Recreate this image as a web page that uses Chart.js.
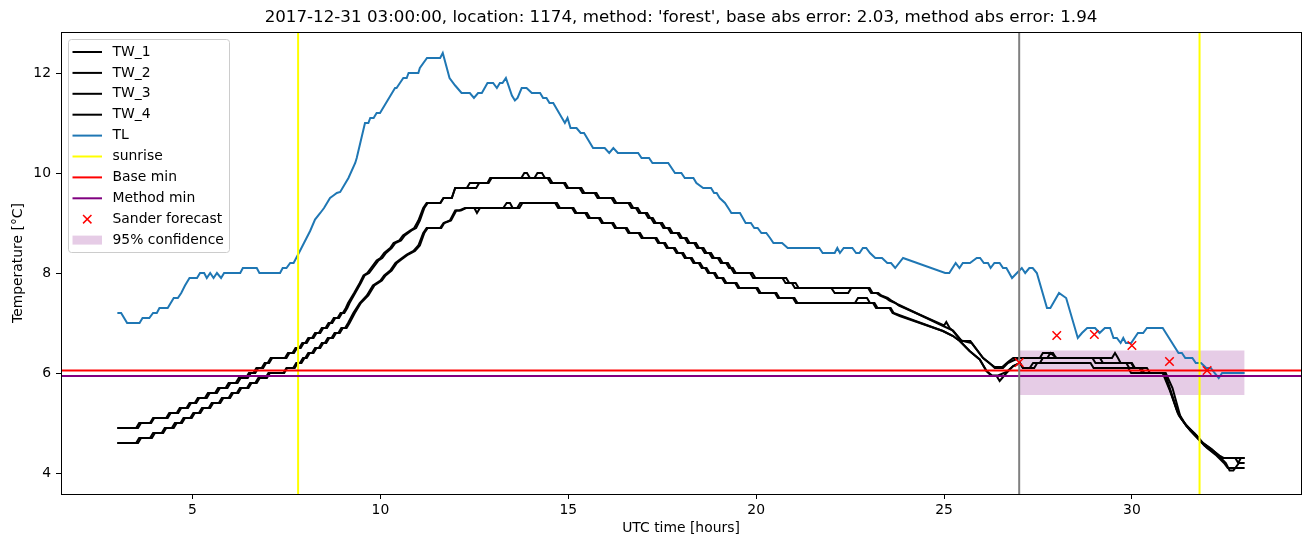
<!DOCTYPE html>
<html><head><meta charset="utf-8">
<script src="https://cdn.jsdelivr.net/npm/chart.js@4.4.1/dist/chart.umd.min.js"></script>
<style>html,body{margin:0;padding:0;background:#fff}#wrap{width:1310px;height:547px;position:relative}</style>
</head><body><div id="wrap"><canvas id="c" width="1310" height="547"></canvas></div>
<script>
const titleText = "2017-12-31 03:00:00, location: 1174, method: 'forest', base abs error: 2.03, method abs error: 1.94";
const xLabel = "UTC time [hours]";
const yLabel = "Temperature [°C]";
const xTicks = [5, 10, 15, 20, 25, 30];
const yTicks = [4, 6, 8, 10, 12];
const xRange = [1.5, 34.5];
const yRange = [3.58, 12.82];

const TW_1 = [[3.0,4.9],[3.5,4.9],[3.58,5.0],[3.87,5.0],[3.95,5.1],[4.3,5.1],[4.38,5.2],[4.58,5.2],[4.66,5.3],[4.84,5.3],[4.92,5.4],[5.06,5.4],[5.14,5.5],[5.33,5.5],[5.41,5.6],[5.6,5.6],[5.68,5.7],[5.88,5.7],[5.96,5.8],[6.15,5.8],[6.23,5.9],[6.42,5.9],[6.5,6.0],[6.62,6.0],[6.7,6.1],[6.84,6.1],[6.92,6.2],[7.0,6.2],[7.08,6.3],[7.46,6.3],[7.54,6.4],[7.66,6.4],[7.74,6.5],[7.84,6.5],[7.92,6.6],[8.0,6.6],[8.08,6.7],[8.18,6.7],[8.26,6.8],[8.36,6.8],[8.44,6.9],[8.54,6.9],[8.62,7.0],[8.68,7.0],[8.76,7.1],[8.86,7.1],[8.94,7.2],[9.0,7.2],[9.08,7.3],[9.14,7.4],[9.3,7.6],[9.45,7.8],[9.55,7.95],[9.65,8.0],[9.75,8.1],[9.9,8.25],[10.0,8.3],[10.1,8.4],[10.26,8.5],[10.35,8.6],[10.5,8.65],[10.6,8.75],[10.79,8.85],[10.9,8.9],[11.01,9.05],[11.14,9.3],[11.23,9.4],[11.59,9.4],[11.68,9.5],[11.9,9.5],[11.99,9.7],[12.3,9.7],[12.38,9.8],[12.85,9.8],[12.92,9.9],[13.75,9.9],[13.83,10.0],[13.9,10.0],[13.98,9.9],[14.1,9.9],[14.18,10.0],[14.3,10.0],[14.38,9.9],[14.5,9.9],[14.58,9.8],[14.88,9.8],[14.96,9.7],[15.3,9.7],[15.38,9.6],[15.7,9.6],[15.78,9.5],[16.15,9.5],[16.23,9.4],[16.6,9.4],[16.68,9.3],[16.8,9.3],[16.88,9.2],[17.05,9.2],[17.13,9.1],[17.2,9.1],[17.28,9.0],[17.45,9.0],[17.53,8.9],[17.65,8.9],[17.73,8.8],[17.9,8.8],[17.98,8.7],[18.1,8.7],[18.18,8.6],[18.35,8.6],[18.43,8.5],[18.55,8.5],[18.63,8.4],[18.75,8.4],[18.83,8.3],[18.98,8.3],[19.06,8.2],[19.2,8.2],[19.28,8.1],[19.33,8.1],[19.41,8.0],[19.84,8.0],[19.92,7.9],[20.7,7.9],[20.78,7.8],[20.95,7.8],[21.03,7.7],[22.98,7.7],[23.06,7.6],[23.2,7.6],[23.3,7.55],[23.45,7.5],[23.55,7.45],[23.7,7.4],[23.8,7.35],[25.0,6.95],[25.06,7.02],[25.15,6.9],[25.24,6.84],[25.46,6.64],[25.7,6.64],[26.04,6.3],[26.2,6.2],[26.35,6.12],[26.55,6.12],[26.7,6.22],[26.84,6.3],[27.55,6.3],[27.63,6.4],[27.9,6.4],[27.98,6.3],[28.95,6.3],[29.03,6.2],[29.85,6.2],[29.93,6.1],[30.25,6.1],[30.33,6.0],[30.82,6.0],[31.0,5.67],[31.22,5.2],[31.45,4.94],[31.67,4.79],[31.89,4.6],[32.16,4.45],[32.33,4.35],[32.45,4.3],[33.0,4.3]];

const TW_2 = [[3.0,4.9],[3.55,4.9],[3.63,5.0],[3.9,5.0],[3.98,5.1],[4.34,5.1],[4.42,5.2],[4.62,5.2],[4.7,5.3],[4.88,5.3],[4.96,5.4],[5.1,5.4],[5.18,5.5],[5.38,5.5],[5.46,5.6],[5.65,5.6],[5.73,5.7],[5.93,5.7],[6.01,5.8],[6.2,5.8],[6.28,5.9],[6.47,5.9],[6.55,6.0],[6.67,6.0],[6.75,6.1],[6.88,6.1],[6.96,6.2],[7.04,6.2],[7.12,6.3],[7.5,6.3],[7.58,6.4],[7.7,6.4],[7.78,6.5],[7.88,6.5],[7.96,6.6],[8.04,6.6],[8.12,6.7],[8.22,6.7],[8.3,6.8],[8.4,6.8],[8.48,6.9],[8.58,6.9],[8.66,7.0],[8.72,7.0],[8.8,7.1],[8.9,7.1],[8.98,7.2],[9.04,7.2],[9.12,7.3],[9.18,7.4],[9.33,7.6],[9.48,7.8],[9.58,7.95],[9.7,8.0],[9.8,8.1],[9.95,8.25],[10.05,8.3],[10.15,8.4],[10.3,8.5],[10.4,8.6],[10.55,8.65],[10.65,8.75],[10.83,8.85],[10.95,8.9],[11.05,9.05],[11.17,9.3],[11.26,9.4],[11.6,9.4],[11.68,9.5],[11.9,9.5],[11.99,9.7],[12.55,9.7],[12.63,9.8],[12.88,9.8],[12.96,9.9],[14.45,9.9],[14.53,9.8],[14.92,9.8],[15.0,9.7],[15.35,9.7],[15.43,9.6],[15.75,9.6],[15.83,9.5],[16.2,9.5],[16.28,9.4],[16.65,9.4],[16.73,9.3],[16.85,9.3],[16.93,9.2],[17.1,9.2],[17.18,9.1],[17.25,9.1],[17.33,9.0],[17.5,9.0],[17.58,8.9],[17.7,8.9],[17.78,8.8],[17.95,8.8],[18.03,8.7],[18.15,8.7],[18.23,8.6],[18.4,8.6],[18.48,8.5],[18.6,8.5],[18.68,8.4],[18.8,8.4],[18.88,8.3],[19.03,8.3],[19.11,8.2],[19.25,8.2],[19.33,8.1],[19.38,8.1],[19.46,8.0],[19.9,8.0],[19.98,7.9],[20.8,7.9],[20.88,7.8],[21.05,7.8],[21.13,7.7],[22.0,7.7],[22.09,7.6],[22.45,7.6],[22.53,7.7],[23.02,7.7],[23.1,7.6],[23.25,7.6],[23.33,7.55],[23.5,7.5],[23.6,7.45],[23.78,7.37],[24.95,6.95],[25.24,6.85],[25.46,6.65],[25.73,6.6],[26.04,6.3],[26.21,6.2],[26.35,6.1],[26.57,6.1],[26.7,6.2],[26.84,6.25],[27.0,6.3],[27.75,6.3],[27.83,6.4],[28.0,6.3],[29.15,6.3],[29.23,6.2],[29.98,6.2],[30.06,6.1],[30.4,6.1],[30.48,6.0],[30.88,6.0],[31.05,5.6],[31.25,5.15],[31.5,4.9],[31.72,4.75],[31.93,4.55],[32.2,4.4],[32.38,4.3],[32.75,4.3],[32.83,4.2],[32.9,4.3],[33.0,4.3]];

const TW_3 = [[3.0,4.6],[3.5,4.6],[3.58,4.7],[3.87,4.7],[3.95,4.8],[4.18,4.8],[4.26,4.9],[4.45,4.9],[4.53,5.0],[4.68,5.0],[4.76,5.1],[4.94,5.1],[5.02,5.2],[5.17,5.2],[5.25,5.3],[5.43,5.3],[5.51,5.4],[5.7,5.4],[5.78,5.5],[5.96,5.5],[6.04,5.6],[6.18,5.6],[6.26,5.7],[6.45,5.7],[6.53,5.8],[6.67,5.8],[6.75,5.9],[6.94,5.9],[7.02,6.0],[7.42,6.0],[7.5,6.1],[7.68,6.1],[7.76,6.2],[7.86,6.2],[7.94,6.3],[8.0,6.3],[8.08,6.4],[8.18,6.4],[8.26,6.5],[8.36,6.5],[8.44,6.6],[8.52,6.6],[8.6,6.7],[8.7,6.7],[8.78,6.8],[8.88,6.8],[8.96,6.9],[9.06,6.9],[9.14,7.0],[9.28,7.2],[9.45,7.4],[9.64,7.55],[9.8,7.75],[10.0,7.85],[10.1,7.95],[10.26,8.05],[10.4,8.2],[10.52,8.27],[10.7,8.37],[10.88,8.44],[11.01,8.55],[11.14,8.8],[11.23,8.9],[11.59,8.9],[11.68,9.0],[11.85,9.05],[11.99,9.25],[12.1,9.25],[12.25,9.3],[12.5,9.3],[12.57,9.2],[12.65,9.3],[13.27,9.3],[13.36,9.4],[13.45,9.4],[13.52,9.3],[13.64,9.3],[13.72,9.4],[14.65,9.4],[14.73,9.3],[15.1,9.3],[15.18,9.2],[15.45,9.2],[15.53,9.1],[15.81,9.1],[15.89,9.0],[16.16,9.0],[16.24,8.9],[16.52,8.9],[16.6,8.8],[16.87,8.8],[16.95,8.7],[17.31,8.7],[17.39,8.6],[17.54,8.6],[17.62,8.5],[17.8,8.5],[17.88,8.4],[18.02,8.4],[18.1,8.3],[18.25,8.3],[18.33,8.2],[18.47,8.2],[18.55,8.1],[18.64,8.1],[18.72,8.0],[18.87,8.0],[18.95,7.9],[19.09,7.9],[19.17,7.8],[19.44,7.8],[19.52,7.7],[20.0,7.7],[20.08,7.6],[20.5,7.6],[20.58,7.5],[20.98,7.5],[21.06,7.4],[22.63,7.4],[22.71,7.5],[22.95,7.5],[23.03,7.4],[23.11,7.4],[23.19,7.3],[23.55,7.3],[23.63,7.2],[23.82,7.14],[24.97,6.84],[25.24,6.74],[25.42,6.64],[25.68,6.44],[25.95,6.27],[26.13,6.04],[26.26,5.94],[26.4,5.94],[26.48,5.84],[26.66,6.0],[26.84,6.14],[27.02,6.2],[27.1,6.1],[27.28,6.1],[27.37,6.2],[27.55,6.2],[27.63,6.3],[29.47,6.3],[29.55,6.4],[29.63,6.3],[29.7,6.2],[30.0,6.2],[30.08,6.1],[30.2,6.1],[30.28,6.0],[30.85,6.0],[31.02,5.65],[31.2,5.25],[31.42,4.98],[31.65,4.8],[31.86,4.62],[32.12,4.48],[32.3,4.35],[32.5,4.2],[32.6,4.05],[32.7,4.05],[32.85,4.2],[33.0,4.2]];

const TW_4 = [[3.0,4.6],[3.55,4.6],[3.63,4.7],[3.92,4.7],[4.0,4.8],[4.22,4.8],[4.3,4.9],[4.5,4.9],[4.58,5.0],[4.72,5.0],[4.8,5.1],[4.98,5.1],[5.06,5.2],[5.21,5.2],[5.29,5.3],[5.47,5.3],[5.55,5.4],[5.74,5.4],[5.82,5.5],[6.0,5.5],[6.08,5.6],[6.22,5.6],[6.3,5.7],[6.49,5.7],[6.57,5.8],[6.71,5.8],[6.79,5.9],[6.98,5.9],[7.06,6.0],[7.44,6.0],[7.52,6.1],[7.72,6.1],[7.8,6.2],[7.9,6.2],[7.98,6.3],[8.04,6.3],[8.12,6.4],[8.22,6.4],[8.3,6.5],[8.4,6.5],[8.48,6.6],[8.56,6.6],[8.64,6.7],[8.74,6.7],[8.82,6.8],[8.92,6.8],[9.0,6.9],[9.1,6.9],[9.18,7.0],[9.32,7.2],[9.48,7.4],[9.68,7.55],[9.84,7.75],[10.04,7.85],[10.14,7.95],[10.3,8.05],[10.44,8.2],[10.56,8.27],[10.74,8.37],[10.92,8.44],[11.05,8.55],[11.17,8.8],[11.26,8.9],[11.62,8.9],[11.7,9.0],[11.88,9.05],[12.02,9.25],[12.14,9.25],[12.28,9.3],[13.7,9.3],[13.78,9.4],[14.7,9.4],[14.78,9.3],[15.14,9.3],[15.22,9.2],[15.5,9.2],[15.58,9.1],[15.85,9.1],[15.93,9.0],[16.2,9.0],[16.28,8.9],[16.56,8.9],[16.64,8.8],[16.91,8.8],[16.99,8.7],[17.35,8.7],[17.43,8.6],[17.58,8.6],[17.66,8.5],[17.84,8.5],[17.92,8.4],[18.06,8.4],[18.14,8.3],[18.29,8.3],[18.37,8.2],[18.51,8.2],[18.59,8.1],[18.68,8.1],[18.76,8.0],[18.91,8.0],[18.99,7.9],[19.13,7.9],[19.21,7.8],[19.48,7.8],[19.56,7.7],[20.04,7.7],[20.12,7.6],[20.54,7.6],[20.62,7.5],[21.02,7.5],[21.1,7.4],[23.15,7.4],[23.23,7.3],[23.58,7.3],[23.66,7.2],[23.84,7.15],[24.97,6.84],[25.24,6.74],[25.42,6.64],[25.68,6.44],[25.95,6.27],[26.13,6.04],[26.28,5.95],[26.44,5.95],[26.66,6.02],[26.84,6.14],[27.02,6.2],[27.1,6.1],[27.4,6.1],[27.48,6.2],[28.9,6.2],[28.98,6.1],[29.9,6.1],[29.98,6.0],[30.9,6.0],[31.08,5.7],[31.3,5.1],[31.55,4.85],[31.8,4.65],[32.0,4.5],[32.25,4.35],[32.45,4.2],[32.55,4.1],[33.0,4.1]];

const TL = [[3.0,7.2],[3.1,7.2],[3.26,7.0],[3.59,7.0],[3.67,7.1],[3.85,7.1],[3.95,7.2],[4.05,7.2],[4.12,7.3],[4.34,7.3],[4.42,7.4],[4.5,7.5],[4.61,7.5],[4.7,7.6],[4.8,7.75],[4.92,7.9],[5.12,7.9],[5.2,8.0],[5.31,8.0],[5.38,7.9],[5.47,8.0],[5.56,7.9],[5.65,8.0],[5.76,7.9],[5.84,8.0],[6.27,8.0],[6.34,8.1],[6.71,8.1],[6.78,8.0],[7.33,8.0],[7.4,8.1],[7.5,8.1],[7.6,8.2],[7.69,8.2],[7.83,8.4],[8.13,8.84],[8.26,9.07],[8.4,9.2],[8.5,9.3],[8.66,9.5],[8.75,9.55],[8.84,9.6],[8.93,9.62],[9.15,9.9],[9.33,10.2],[9.37,10.3],[9.59,11.0],[9.68,11.0],[9.73,11.1],[9.82,11.1],[9.9,11.2],[9.99,11.2],[10.39,11.7],[10.43,11.7],[10.52,11.8],[10.61,11.9],[10.7,11.9],[10.75,12.0],[11.01,12.0],[11.05,12.1],[11.24,12.3],[11.59,12.3],[11.66,12.4],[11.84,11.9],[11.99,11.75],[12.16,11.6],[12.38,11.6],[12.49,11.5],[12.6,11.6],[12.7,11.6],[12.85,11.8],[13.0,11.8],[13.1,11.7],[13.18,11.8],[13.25,11.8],[13.34,11.9],[13.5,11.55],[13.58,11.45],[13.65,11.5],[13.76,11.7],[13.89,11.7],[14.03,11.6],[14.25,11.6],[14.33,11.5],[14.42,11.5],[14.5,11.4],[14.6,11.4],[14.91,11.0],[14.98,11.1],[15.06,10.9],[15.22,10.9],[15.33,10.8],[15.42,10.8],[15.66,10.5],[15.97,10.5],[16.09,10.4],[16.2,10.5],[16.32,10.4],[16.86,10.4],[16.95,10.3],[17.15,10.3],[17.24,10.2],[17.66,10.2],[17.84,10.0],[18.01,10.0],[18.1,9.9],[18.33,9.9],[18.41,9.8],[18.59,9.7],[18.8,9.7],[18.88,9.6],[18.95,9.6],[19.03,9.5],[19.17,9.4],[19.3,9.25],[19.34,9.2],[19.57,9.2],[19.72,9.0],[19.86,9.0],[19.95,8.9],[20.04,8.9],[20.14,8.8],[20.27,8.8],[20.37,8.7],[20.46,8.6],[20.69,8.6],[20.84,8.5],[21.68,8.5],[21.77,8.4],[22.09,8.4],[22.16,8.5],[22.23,8.4],[22.33,8.5],[22.56,8.5],[22.66,8.4],[22.75,8.4],[22.84,8.5],[22.93,8.5],[23.03,8.4],[23.17,8.3],[23.35,8.3],[23.49,8.2],[23.59,8.2],[23.7,8.1],[23.91,8.3],[25.03,8.0],[25.14,8.0],[25.31,8.2],[25.41,8.1],[25.5,8.2],[25.69,8.2],[25.87,8.3],[25.96,8.3],[26.06,8.2],[26.17,8.2],[26.24,8.1],[26.34,8.2],[26.48,8.2],[26.57,8.1],[26.66,8.1],[26.81,7.9],[26.94,8.0],[27.07,8.1],[27.16,8.0],[27.27,8.1],[27.36,8.1],[27.47,8.0],[27.74,7.3],[27.83,7.3],[28.06,7.6],[28.25,7.5],[28.56,6.7],[28.67,6.8],[28.81,6.9],[29.02,6.9],[29.14,6.8],[29.28,6.9],[29.42,6.9],[29.51,6.7],[29.6,6.7],[29.7,6.6],[29.77,6.7],[29.84,6.6],[29.98,6.6],[30.16,6.8],[30.3,6.8],[30.4,6.9],[30.82,6.9],[31.24,6.4],[31.33,6.4],[31.42,6.3],[31.61,6.3],[31.7,6.2],[31.84,6.2],[31.98,6.1],[32.1,6.1],[32.2,6.0],[32.31,5.9],[32.4,6.0],[32.92,6.0],[33.0,6.0]];

const sunriseHours = [7.81, 31.8];
const forecastStartHour = 27.0;
const baseMin = 6.05;
const methodMin = 5.94;
const forecastHours = [27, 28, 29, 30, 31, 32];
const forecastValues = [6.21, 6.75, 6.77, 6.55, 6.23, 6.05];
const confidenceHours = [27, 33];
const confidenceLow = [5.56, 5.56];
const confidenceHigh = [6.45, 6.45];

const FONT = "DejaVu Sans";
const toXY = a => a.map(p => ({x: p[0], y: p[1]}));
const zip = (xs, ys) => xs.map((x, i) => ({x, y: ys[i]}));
let ord = 100, leg = 0;
function line(label, data, color, legend) {
  return {type: 'line', label, data, borderColor: color, backgroundColor: color, borderWidth: 2,
    pointRadius: 0, pointHoverRadius: 0, fill: false, tension: 0, order: ord--,
    legendKind: legend ? 'line' : null, legendIndex: legend ? leg++ : -1};
}
const datasets = [];
// confidence band (drawn lowest)
datasets.push({type: 'line', label: '_low', data: zip(confidenceHours, confidenceLow), borderWidth: 0, pointRadius: 0, fill: false, order: 200, legendKind: null});
datasets.push({type: 'line', label: '95% confidence', data: zip(confidenceHours, confidenceHigh), borderWidth: 0, pointRadius: 0,
  fill: '-1', backgroundColor: 'rgba(128,0,128,0.2)', order: 199, legendKind: 'patch', legendIndex: 1000});
datasets.push(line('TW_1', toXY(TW_1), '#000000', true));
datasets.push(line('TW_2', toXY(TW_2), '#000000', true));
datasets.push(line('TW_3', toXY(TW_3), '#000000', true));
datasets.push(line('TW_4', toXY(TW_4), '#000000', true));
datasets.push(line('TL', toXY(TL), '#1f77b4', true));
sunriseHours.forEach((h, i) => datasets.push(line('sunrise', [{x: h, y: yRange[0]}, {x: h, y: yRange[1]}], '#ffff00', i === 0)));
datasets.push(line('Base min', [{x: xRange[0], y: baseMin}, {x: xRange[1], y: baseMin}], '#ff0000', true));
datasets.push(line('Method min', [{x: xRange[0], y: methodMin}, {x: xRange[1], y: methodMin}], '#800080', true));
datasets.push(line('_forecast_start', [{x: forecastStartHour, y: yRange[0]}, {x: forecastStartHour, y: yRange[1]}], '#808080', false));
datasets.push({type: 'scatter', label: 'Sander forecast', data: zip(forecastHours, forecastValues), showLine: false,
  pointStyle: 'crossRot', pointRadius: 6, pointHoverRadius: 6, borderColor: '#ff0000', backgroundColor: '#ff0000', borderWidth: 1.5,
  order: ord--, legendKind: 'marker', legendIndex: 900});

const tickFont = {family: FONT, size: 13.9};
const decor = {
  id: 'decor',
  afterDraw(chart) {
    const ctx = chart.ctx, a = chart.chartArea;
    ctx.save();
    ctx.strokeStyle = '#000'; ctx.lineWidth = 1;
    ctx.strokeRect(Math.round(a.left) + 0.5, Math.round(a.top) + 0.5, Math.round(a.right - a.left), Math.round(a.bottom - a.top));
    ctx.fillStyle = '#000'; ctx.font = '16.7px "' + FONT + '"'; ctx.textAlign = 'center'; ctx.textBaseline = 'middle';
    ctx.fillText(titleText, (a.left + a.right) / 2, 18);
    const entries = chart.data.datasets.filter(d => d.legendKind).sort((p, q) => p.legendIndex - q.legendIndex);
    const bx = a.left + 7.5, by = a.top + 7.5, bw = 161, rowH = 20.9, bh = 213;
    ctx.beginPath();
    const r = 3;
    ctx.moveTo(bx + r, by); ctx.lineTo(bx + bw - r, by); ctx.quadraticCurveTo(bx + bw, by, bx + bw, by + r);
    ctx.lineTo(bx + bw, by + bh - r); ctx.quadraticCurveTo(bx + bw, by + bh, bx + bw - r, by + bh);
    ctx.lineTo(bx + r, by + bh); ctx.quadraticCurveTo(bx, by + bh, bx, by + bh - r);
    ctx.lineTo(bx, by + r); ctx.quadraticCurveTo(bx, by, bx + r, by); ctx.closePath();
    ctx.fillStyle = 'rgba(255,255,255,0.8)'; ctx.fill();
    ctx.strokeStyle = '#cccccc'; ctx.lineWidth = 1; ctx.stroke();
    ctx.font = '13.9px "' + FONT + '"'; ctx.textAlign = 'left'; ctx.textBaseline = 'middle';
    entries.forEach((d, i) => {
      const y = by + 12.5 + i * rowH;
      const x1 = bx + 4, x2 = bx + 33.5;
      if (d.legendKind === 'line') {
        ctx.strokeStyle = d.borderColor; ctx.lineWidth = 2;
        ctx.beginPath(); ctx.moveTo(x1, y); ctx.lineTo(x2, y); ctx.stroke();
      } else if (d.legendKind === 'marker') {
        const cx = (x1 + x2) / 2, s = 4.2;
        ctx.strokeStyle = d.borderColor; ctx.lineWidth = 1.5;
        ctx.beginPath(); ctx.moveTo(cx - s, y - s); ctx.lineTo(cx + s, y + s); ctx.moveTo(cx - s, y + s); ctx.lineTo(cx + s, y - s); ctx.stroke();
      } else if (d.legendKind === 'patch') {
        ctx.fillStyle = d.backgroundColor; ctx.fillRect(x1, y - 4.5, x2 - x1, 9);
      }
      ctx.fillStyle = '#000';
      ctx.fillText(d.label, bx + 44, y);
    });
    ctx.restore();
  }
};

new Chart(document.getElementById('c'), {
  data: {datasets},
  options: {
    responsive: false, animation: false, devicePixelRatio: 1,
    layout: {padding: {top: 32, right: 9, left: 0, bottom: 0}},
    plugins: {legend: {display: false}, tooltip: {enabled: false}, title: {display: false}},
    events: [],
    scales: {
      x: {type: 'linear', position: 'bottom', min: xRange[0], max: xRange[1],
        afterBuildTicks: s => { s.ticks = xTicks.map(v => ({value: v})); },
        afterFit: s => { s.height = 53; },
        grid: {drawOnChartArea: false, drawTicks: true, tickLength: 5, color: '#000', lineWidth: 1},
        border: {display: false},
        ticks: {font: tickFont, color: '#000', padding: 3, maxRotation: 0, autoSkip: false},
        title: {display: true, text: xLabel, font: tickFont, color: '#000', padding: {top: 0, bottom: 10}}},
      y: {type: 'linear', position: 'left', min: yRange[0], max: yRange[1],
        afterBuildTicks: s => { s.ticks = yTicks.map(v => ({value: v})); },
        afterFit: s => { s.width = 61; },
        grid: {drawOnChartArea: false, drawTicks: true, tickLength: 5, color: '#000', lineWidth: 1},
        border: {display: false},
        ticks: {font: tickFont, color: '#000', padding: 5, autoSkip: false},
        title: {display: true, text: yLabel, font: tickFont, color: '#000', padding: {top: 10, bottom: 0}}}
    }
  },
  plugins: [decor]
});
</script>
</body></html>
